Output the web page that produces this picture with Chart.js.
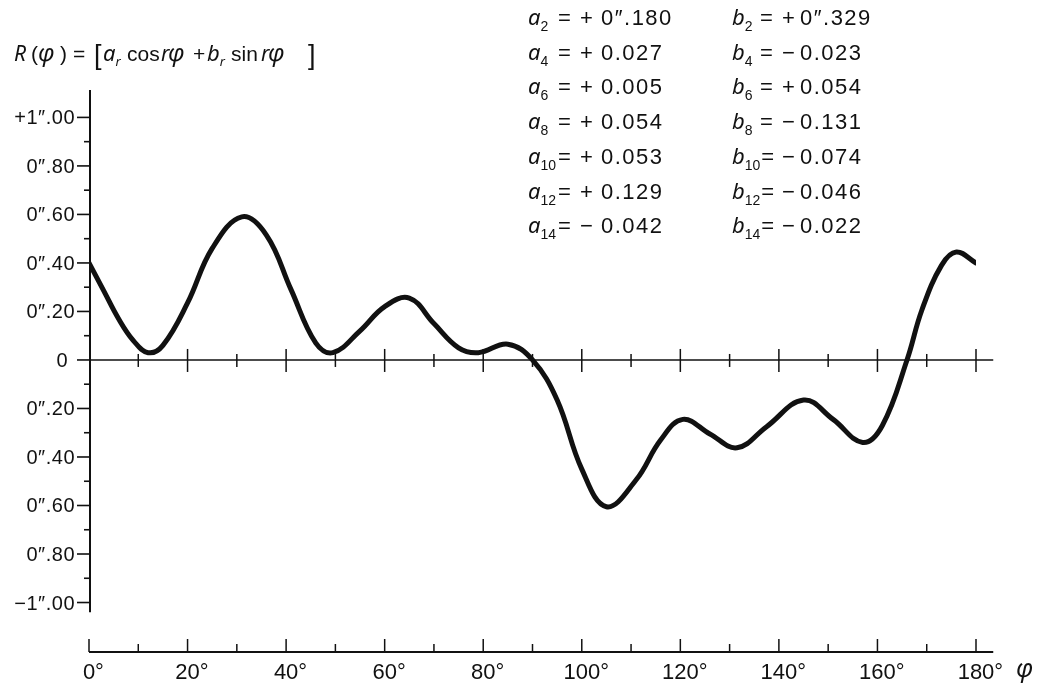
<!DOCTYPE html>
<html>
<head>
<meta charset="utf-8">
<script src="https://cdn.jsdelivr.net/npm/chart.js@4"></script>
<style>
  html, body { margin: 0; padding: 0; background: #fff; }
  canvas { display: block; }
</style>
</head>
<body>
<canvas id="chart" width="1040" height="684"></canvas>
<script>
// R(phi) (phi in degrees)
const phi = [0, 3, 6, 9, 12, 15, 20, 25, 31, 36, 41, 46, 49.5, 55, 60, 65, 70, 75, 79, 85, 90,
  95, 100, 105, 111, 116, 120.5, 126, 131.5, 137.5, 145, 151, 157, 161, 166, 169, 173, 176, 180];
const rValues = [0.40, 0.285, 0.17, 0.08, 0.03, 0.06, 0.235, 0.46, 0.59, 0.515, 0.29, 0.07, 0.03, 0.12, 0.22, 0.255, 0.15, 0.05, 0.03, 0.065, 0.0,
  -0.165, -0.45, -0.605, -0.495, -0.33, -0.245, -0.305, -0.362, -0.275, -0.165, -0.245, -0.34, -0.27, 0.0, 0.205, 0.39, 0.445, 0.40];

const xTicks = [0, 20, 40, 60, 80, 100, 120, 140, 160, 180];
const xMinorTicks = [10, 30, 50, 70, 90, 110, 130, 150, 170];
const yTicks = [1, 0.8, 0.6, 0.4, 0.2, 0, -0.2, -0.4, -0.6, -0.8, -1];
const yTickLabels = ['+1″.00', '0″.80', '0″.60', '0″.40', '0″.20', '0', '0″.20', '0″.40', '0″.60', '0″.80', '−1″.00'];
const yMinorTicks = [0.9, 0.7, 0.5, 0.3, 0.1, -0.1, -0.3, -0.5, -0.7, -0.9];

// Fourier coefficients printed in the corner
const orders = [2, 4, 6, 8, 10, 12, 14];
const aCoef = [0.180, 0.027, 0.005, 0.054, 0.053, 0.129, -0.042];
const bCoef = [0.329, -0.023, 0.054, -0.131, -0.074, -0.046, -0.022];

const ink = '#111';
const up = s => `${s}px "Liberation Sans", Arial, sans-serif`;
const it = s => `italic ${s}px "Noto Sans", "DejaVu Sans", sans-serif`;

function line(ctx, x1, y1, x2, y2, w) {
  ctx.lineWidth = w;
  ctx.beginPath();
  ctx.moveTo(x1, y1);
  ctx.lineTo(x2, y2);
  ctx.stroke();
}

function txt(ctx, s, x, y, font) {
  ctx.font = font;
  ctx.fillText(s, x, y);
  return x + ctx.measureText(s).width;
}

function fmtCoef(v, first) {
  const sign = v < 0 ? '−' : '+';
  const digits = Math.abs(v).toFixed(3);
  return [sign, first ? digits.replace('.', '″.') : digits];
}

const axesPlugin = {
  id: 'axes',
  beforeDatasetsDraw(chart) {
    const { ctx, chartArea, scales: { x, y } } = chart;
    const x0 = x.getPixelForValue(0) + 1;
    const y0 = y.getPixelForValue(0);
    const yb = chartArea.bottom;
    const xEnd = x.getPixelForValue(183.5);
    ctx.save();
    ctx.strokeStyle = ink;

    // vertical axis with ticks
    line(ctx, x0, chartArea.top, x0, y.getPixelForValue(-1.04), 2);
    yTicks.forEach(v => {
      const py = y.getPixelForValue(v);
      line(ctx, x0 - 13, py, x0, py, 1.6);
    });
    yMinorTicks.forEach(v => {
      const py = y.getPixelForValue(v);
      line(ctx, x0 - 6, py, x0, py, 1.6);
    });

    // zero line
    line(ctx, x0, y0, xEnd, y0, 1.5);
    xTicks.slice(1).forEach(v => {
      const px = x.getPixelForValue(v);
      line(ctx, px, y0 - 11, px, y0 + 12, 1.5);
    });
    xMinorTicks.forEach(v => {
      const px = x.getPixelForValue(v);
      line(ctx, px, y0 - 6, px, y0 + 7, 1.5);
    });

    // bottom degree scale
    line(ctx, x0 - 1, yb, xEnd, yb, 2);
    xTicks.forEach(v => {
      const px = x.getPixelForValue(v);
      line(ctx, px, yb, px, yb - 13, 1.5);
    });
    xMinorTicks.forEach(v => {
      const px = x.getPixelForValue(v);
      line(ctx, px, yb, px, yb - 8, 1.5);
    });
    ctx.restore();
  },
  afterDatasetsDraw(chart) {
    const { ctx, chartArea, scales: { x, y } } = chart;
    ctx.save();
    ctx.fillStyle = ink;
    ctx.textBaseline = 'alphabetic';

    // y labels
    ctx.font = up(20);
    ctx.textAlign = 'right';
    ctx.letterSpacing = '0.5px';
    yTicks.forEach((v, i) => {
      const lbl = yTickLabels[i];
      ctx.fillText(lbl, lbl === '0' ? 68 : 75, y.getPixelForValue(v) + 7);
    });

    // x labels
    ctx.textAlign = 'left';
    ctx.letterSpacing = '0px';
    ctx.font = up(22);
    xTicks.forEach(v => {
      const w = ctx.measureText(String(v)).width;
      ctx.fillText(v + '°', x.getPixelForValue(v) - w / 2, chartArea.bottom + 27);
    });
    txt(ctx, 'φ', 1016, 677, it(25));

    // formula
    const fb = 61;
    txt(ctx, 'R', 14, fb, it(21));
    txt(ctx, '(', 31, fb, up(21));
    txt(ctx, 'φ', 38, fb, it(24));
    txt(ctx, ')', 60, fb, up(21));
    txt(ctx, '=', 73, fb, up(21));
    txt(ctx, '[', 94, fb + 3, up(27));
    let cx = txt(ctx, 'a', 103, fb, it(22));
    txt(ctx, 'r', cx, fb + 5, it(13));
    txt(ctx, 'cos', 127, fb, up(21));
    txt(ctx, 'r', 161, fb, it(21));
    txt(ctx, 'φ', 168, fb, it(24));
    txt(ctx, '+', 193, fb, up(21));
    cx = txt(ctx, 'b', 207, fb, it(22));
    txt(ctx, 'r', cx, fb + 5, it(13));
    txt(ctx, 'sin', 231, fb, up(21));
    txt(ctx, 'r', 261, fb, it(21));
    txt(ctx, 'φ', 268, fb, it(24));
    txt(ctx, ']', 308, fb + 3, up(27));

    // coefficient table
    const cols = [
      { name: 'a', vals: aCoef, x: 528, eq: 558, sign: 580, num: 601 },
      { name: 'b', vals: bCoef, x: 732, eq: 760, sign: 782, num: 800 }
    ];
    cols.forEach(c => {
      orders.forEach((r, i) => {
        const by = 25 + 34.7 * i;
        ctx.letterSpacing = '0px';
        let ex = txt(ctx, c.name, c.x, by, it(22));
        ex = txt(ctx, String(r), ex, by + 6, up(14));
        txt(ctx, '=', Math.max(c.eq, ex + 1), by, up(22));
        const [sg, num] = fmtCoef(c.vals[i], i === 0);
        txt(ctx, sg, c.sign, by, up(22));
        ctx.letterSpacing = '1.5px';
        txt(ctx, num, c.num, by, up(22));
      });
    });
    ctx.restore();
  }
};

new Chart(document.getElementById('chart'), {
  type: 'line',
  data: {
    datasets: [{
      data: phi.map((p, i) => ({ x: p, y: rValues[i] })),
      borderColor: ink,
      borderWidth: 5,
      pointRadius: 0,
      fill: false,
      tension: 0.4,
      borderCapStyle: 'round',
      borderJoinStyle: 'round'
    }]
  },
  options: {
    responsive: false,
    animation: false,
    devicePixelRatio: 1,
    layout: { padding: { left: 89, right: 64, top: 90, bottom: 32 } },
    scales: {
      x: { type: 'linear', min: 0, max: 180, display: false },
      y: { min: -1.204, max: 1.113, display: false }
    },
    plugins: { legend: { display: false }, tooltip: { enabled: false } }
  },
  plugins: [axesPlugin]
});
</script>
</body>
</html>
